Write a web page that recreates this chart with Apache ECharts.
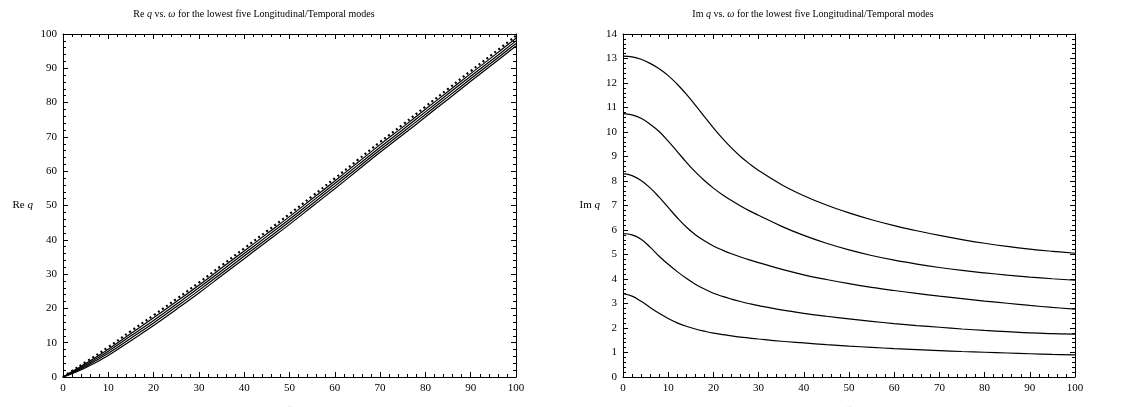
<!DOCTYPE html>
<html>
<head>
<meta charset="utf-8">
<script src="https://cdn.jsdelivr.net/npm/echarts@6/dist/echarts.min.js"></script>
<style>html,body{margin:0;padding:0;background:#fff}#c{width:1130px;height:407px}</style>
</head>
<body>
<div id="c"></div>
<script>
// ---- Data ----
const omegaRe = [0,2,5,10,15,20,25,30,35,40,45,50,55,60,65,70,75,80,85,90,95,100];
const reMode1 = [0,1.8,4.3,8.7,13.4,18,22.7,27.5,32.5,37.5,42.5,47.5,52.7,57.9,63.2,68.5,73.6,78.8,84,89.2,94.3,99.5];
const reMode2 = [0,1.6,3.9,8.1,12.7,17.25,21.95,26.75,31.75,36.75,41.75,46.75,51.95,57.15,62.45,67.75,72.85,78.05,83.25,88.45,93.55,98.75];
const reMode3 = [0,1.4,3.5,7.5,12,16.5,21.2,26,31,36,41,46,51.2,56.4,61.7,67,72.1,77.3,82.5,87.7,92.8,98];
const reMode4 = [0,1.2,3.1,6.9,11.3,15.75,20.45,25.25,30.25,35.25,40.25,45.25,50.45,55.65,60.95,66.25,71.35,76.55,81.75,86.95,92.05,97.25];
const reMode5 = [0,1.0,2.7,6.3,10.6,15,19.7,24.5,29.5,34.5,39.5,44.5,49.7,54.9,60.2,65.5,70.6,75.8,81,86.2,91.3,96.5];

const omegaIm = [0,2,4,6,8,10,12,14,16,18,20,22,24,26,28,30,35,40,45,50,55,60,65,70,75,80,85,90,95,100];
const imMode1 = [3.4,3.3,3.09,2.84,2.6,2.39,2.21,2.07,1.96,1.87,1.79,1.73,1.68,1.63,1.59,1.55,1.46,1.39,1.32,1.26,1.21,1.16,1.12,1.08,1.04,1.01,0.98,0.95,0.92,0.9];
const imMode2 = [5.85,5.8,5.62,5.3,4.93,4.6,4.3,4.03,3.79,3.59,3.42,3.29,3.18,3.08,2.99,2.91,2.74,2.6,2.48,2.37,2.27,2.18,2.1,2.03,1.96,1.9,1.85,1.8,1.77,1.75];
const imMode3 = [8.3,8.22,8.02,7.72,7.34,6.92,6.5,6.12,5.81,5.56,5.35,5.18,5.03,4.9,4.78,4.67,4.4,4.17,3.98,3.81,3.66,3.53,3.41,3.3,3.2,3.1,3.01,2.92,2.84,2.77];
const imMode4 = [10.75,10.7,10.56,10.32,10.02,9.63,9.2,8.77,8.37,8.02,7.71,7.44,7.2,6.98,6.78,6.6,6.16,5.78,5.46,5.19,4.96,4.77,4.61,4.47,4.35,4.25,4.16,4.08,4.01,3.95];
const imMode5 = [13.1,13.07,12.97,12.8,12.58,12.3,11.95,11.55,11.1,10.63,10.17,9.74,9.35,9.0,8.7,8.43,7.86,7.4,7.02,6.7,6.42,6.18,5.97,5.78,5.61,5.46,5.33,5.22,5.13,5.05];

const titleLeft = 'Re {i|q} vs. {i|ω} for the lowest five Longitudinal/Temporal modes';
const titleRight = 'Im {i|q} vs. {i|ω} for the lowest five Longitudinal/Temporal modes';

// ---- Chart ----
const FONT = 'Liberation Serif';
const richT = { i: { fontStyle: 'italic', fontFamily: FONT, fontSize: 10, color: '#000' } };
const richA = { i: { fontStyle: 'italic', fontFamily: FONT, fontSize: 11, color: '#000' } };
const pair = (xs, ys) => xs.map((x, i) => [x, ys[i]]);

function xAx(gi, pos, labels) {
  return {
    type: 'value', gridIndex: gi, position: pos, min: 0, max: 100, interval: 10,
    axisLine: { show: true, onZero: false, lineStyle: { color: '#000', width: 1 } },
    axisTick: { show: true, inside: true, length: 5, lineStyle: { color: '#000' } },
    minorTick: { show: true, splitNumber: 5, length: 3, lineStyle: { color: '#000' } },
    splitLine: { show: false },
    axisLabel: { show: labels, color: '#000', fontFamily: FONT, fontSize: 11, margin: 6 },
    name: labels ? '{i|ω}' : '', nameLocation: 'middle', nameGap: 27,
    nameTextStyle: { rich: richA }
  };
}
function yAx(gi, pos, max, interval, labels, name, gap) {
  return {
    type: 'value', gridIndex: gi, position: pos, min: 0, max: max, interval: interval,
    axisLine: { show: true, onZero: false, lineStyle: { color: '#000', width: 1 } },
    axisTick: { show: true, inside: true, length: 5, lineStyle: { color: '#000' } },
    minorTick: { show: true, splitNumber: 5, length: 3, lineStyle: { color: '#000' } },
    splitLine: { show: false },
    axisLabel: { show: labels, color: '#000', fontFamily: FONT, fontSize: 11, margin: 6 },
    name: labels ? name : '', nameLocation: 'middle', nameGap: gap || 0, nameRotate: 0,
    nameTextStyle: { rich: richA, fontFamily: FONT, fontSize: 11, color: '#000', align: 'right' }
  };
}
function ln(xi, yi, data, dotted) {
  return {
    type: 'line', xAxisIndex: xi, yAxisIndex: yi, data: data, showSymbol: false, smooth: 0.4,
    animation: false,
    lineStyle: dotted ? { color: '#000', width: 2.2, type: [2, 3] } : { color: '#000', width: 1.2 }
  };
}

const chart = echarts.init(document.getElementById('c'), null, { renderer: 'canvas' });
chart.setOption({
  animation: false,
  backgroundColor: '#fff',
  textStyle: { fontFamily: FONT, color: '#000' },
  title: [
    { text: titleLeft, left: 249, top: 4, textAlign: 'center',
      textStyle: { fontFamily: FONT, fontSize: 10, fontWeight: 'normal', color: '#000', rich: richT } },
    { text: titleRight, left: 808, top: 4, textAlign: 'center',
      textStyle: { fontFamily: FONT, fontSize: 10, fontWeight: 'normal', color: '#000', rich: richT } }
  ],
  grid: [
    { left: 63, top: 34, width: 453, height: 343, outerBoundsMode: 'none', containLabel: false },
    { left: 623, top: 34, width: 452, height: 343, outerBoundsMode: 'none', containLabel: false }
  ],
  xAxis: [xAx(0, 'bottom', true), xAx(0, 'top', false), xAx(1, 'bottom', true), xAx(1, 'top', false)],
  yAxis: [yAx(0, 'left', 100, 10, true, 'Re {i|q}', 30), yAx(0, 'right', 100, 10, false, ''),
          yAx(1, 'left', 14, 1, true, 'Im {i|q}', 23), yAx(1, 'right', 14, 1, false, '')],
  series: [
    ln(0, 0, pair(omegaRe, reMode1), true),
    ln(0, 0, pair(omegaRe, reMode2)),
    ln(0, 0, pair(omegaRe, reMode3)),
    ln(0, 0, pair(omegaRe, reMode4)),
    ln(0, 0, pair(omegaRe, reMode5)),
    ln(2, 2, pair(omegaIm, imMode1)),
    ln(2, 2, pair(omegaIm, imMode2)),
    ln(2, 2, pair(omegaIm, imMode3)),
    ln(2, 2, pair(omegaIm, imMode4)),
    ln(2, 2, pair(omegaIm, imMode5))
  ]
});
</script>
</body>
</html>
